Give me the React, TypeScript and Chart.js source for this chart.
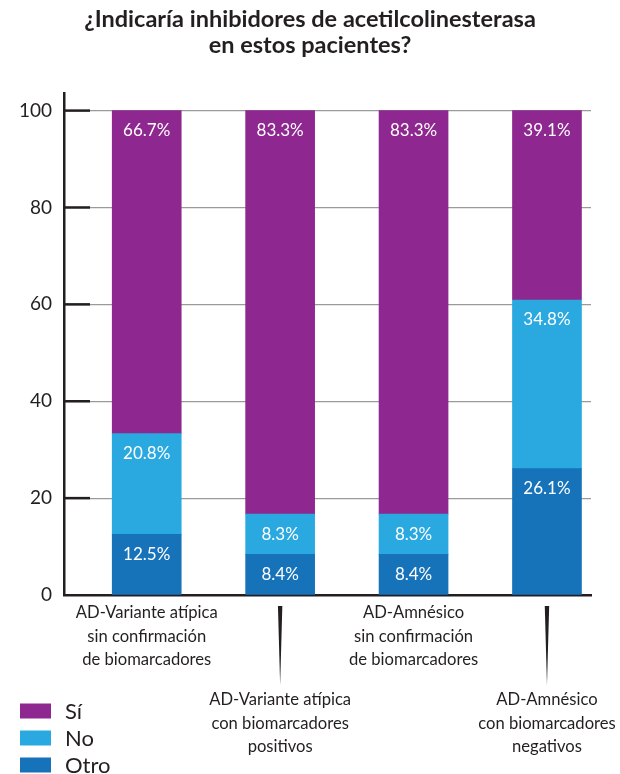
import { useEffect, useRef } from 'react';
import { Chart, registerables } from 'chart.js';
import type { Plugin } from 'chart.js';

Chart.register(...registerables);

const categories: string[][] = [
    ['AD-Variante atípica', 'sin confirmación', 'de biomarcadores'],
    ['AD-Variante atípica', 'con biomarcadores', 'positivos'],
    ['AD-Amnésico', 'sin confirmación', 'de biomarcadores'],
    ['AD-Amnésico', 'con biomarcadores', 'negativos'],
];
const seriesNames = ['Sí', 'No', 'Otro'];
const siValues = [66.7, 83.3, 83.3, 39.1];
const noValues = [20.8, 8.3, 8.3, 34.8];
const otroValues = [12.5, 8.4, 8.4, 26.1];
const yTicks = [0, 20, 40, 60, 80, 100];

const PURPLE = '#8E278F';
const LIGHT = '#29A9E0';
const DARK = '#1673BA';
const INK = '#231F20';
const FONT = 'Lato, "Open Sans", sans-serif';

const decorations: Plugin = {
    id: 'decorations',
    afterDatasetsDraw(chart) {
        const { ctx } = chart;
        // white value labels near the top of each segment
        ctx.save();
        ctx.fillStyle = '#ffffff';
        ctx.font = `17px ${FONT}`;
        ctx.textAlign = 'center';
        ctx.textBaseline = 'middle';
        chart.data.datasets.forEach((ds, di) => {
            const meta = chart.getDatasetMeta(di);
            meta.data.forEach((bar: any, i) => {
                const v = (ds.data[i] as any).y;
                ctx.fillText(`${v.toFixed(1)}%`, bar.x, bar.y + 20);
            });
        });
        ctx.restore();
    },
    afterDraw(chart) {
        const { ctx, chartArea, scales } = chart;
        const x = scales.x;
        const y = scales.y;
        ctx.save();

        // black tick marks on the inside of the y axis
        ctx.strokeStyle = INK;
        ctx.lineWidth = 2.5;
        yTicks.forEach((t) => {
            if (t === 0) return;
            const py = y.getPixelForValue(t);
            ctx.beginPath();
            ctx.moveTo(chartArea.left, py);
            ctx.lineTo(chartArea.left + 26, py);
            ctx.stroke();
        });

        // category labels, alternating rows, with wedge pointers
        ctx.fillStyle = INK;
        ctx.font = `16.6px ${FONT}`;
        ctx.textAlign = 'center';
        ctx.textBaseline = 'middle';
        categories.forEach((lines, i) => {
            const px = x.getPixelForValue(i);
            const low = i % 2 === 1;
            const top = low ? chartArea.bottom + 105 : chartArea.bottom + 18;
            lines.forEach((line, li) => {
                ctx.fillText(line, px, top + li * 23.5);
            });
            if (low) {
                ctx.beginPath();
                ctx.moveTo(px - 2.2, chartArea.bottom + 11);
                ctx.lineTo(px + 2.2, chartArea.bottom + 11);
                ctx.lineTo(px, chartArea.bottom + 90);
                ctx.closePath();
                ctx.fill();
            }
        });

        // legend, stacked vertically in the lower left corner
        const colors = [PURPLE, LIGHT, DARK];
        ctx.font = `22px ${FONT}`;
        ctx.textAlign = 'left';
        seriesNames.forEach((name, i) => {
            const ly = 711 + i * 27;
            ctx.fillStyle = colors[i];
            ctx.fillRect(20, ly - 7.5, 31, 15);
            ctx.fillStyle = INK;
            ctx.fillText(name, 65, ly + 1);
        });
        ctx.restore();
    },
};

export default function App() {
    const canvasRef = useRef<HTMLCanvasElement>(null);
    const chartRef = useRef<Chart | null>(null);

    useEffect(() => {
        document.body.style.margin = '0';
        if (!canvasRef.current) return;
        const pts = (vals: number[]) => vals.map((v, i) => ({ x: i, y: v }));

        chartRef.current = new Chart(canvasRef.current, {
            type: 'bar',
            data: {
                datasets: [
                    { label: 'Otro', data: pts(otroValues), backgroundColor: DARK },
                    { label: 'No', data: pts(noValues), backgroundColor: LIGHT },
                    { label: 'Sí', data: pts(siValues), backgroundColor: PURPLE },
                ],
            },
            options: {
                responsive: true,
                maintainAspectRatio: false,
                animation: false,
                layout: { padding: { left: 0, right: 0, bottom: 179 } },
                datasets: { bar: { barThickness: 69 } },
                plugins: {
                    legend: { display: false },
                    tooltip: { enabled: false },
                    title: {
                        display: true,
                        text: ['¿Indicaría inhibidores de acetilcolinesterasa', 'en estos pacientes?'],
                        color: INK,
                        font: { family: FONT, size: 23.5, weight: 'bold', lineHeight: 1.12 },
                        padding: { top: 6, bottom: 35 },
                    },
                },
                scales: {
                    x: {
                        type: 'linear',
                        offset: false,
                        min: -0.62,
                        max: 3.33,
                        stacked: true,
                        ticks: { display: false },
                        grid: { display: false, drawTicks: false, offset: false },
                        border: { color: INK, width: 2.5 },
                    },
                    y: {
                        stacked: true,
                        min: 0,
                        max: 103.5,
                        afterBuildTicks: (scale) => {
                            scale.ticks = yTicks.map((v) => ({ value: v }));
                        },
                        afterFit: (scale) => {
                            scale.width = 64;
                        },
                        ticks: {
                            color: INK,
                            padding: 12,
                            font: { family: FONT, size: 19 },
                        },
                        grid: {
                            color: (c) => (c.tick && c.tick.value === 0 ? 'rgba(0,0,0,0)' : '#9a9a9a'),
                            lineWidth: 1.2,
                            drawTicks: false,
                        },
                        border: { color: INK, width: 2.5 },
                    },
                    // empty right axis, only reserves the white margin on the right
                    yRight: {
                        type: 'linear',
                        position: 'right',
                        min: 0,
                        max: 103.5,
                        ticks: { display: false },
                        grid: { display: false, drawTicks: false },
                        border: { display: false },
                        afterFit: (scale) => {
                            scale.width = 29;
                        },
                    },
                },
            },
            plugins: [decorations],
        });

        return () => {
            chartRef.current?.destroy();
            chartRef.current = null;
        };
    }, []);

    return (
        <div style={{ width: 620, height: 774, position: 'relative', background: '#fff' }}>
            <canvas ref={canvasRef} />
        </div>
    );
}
